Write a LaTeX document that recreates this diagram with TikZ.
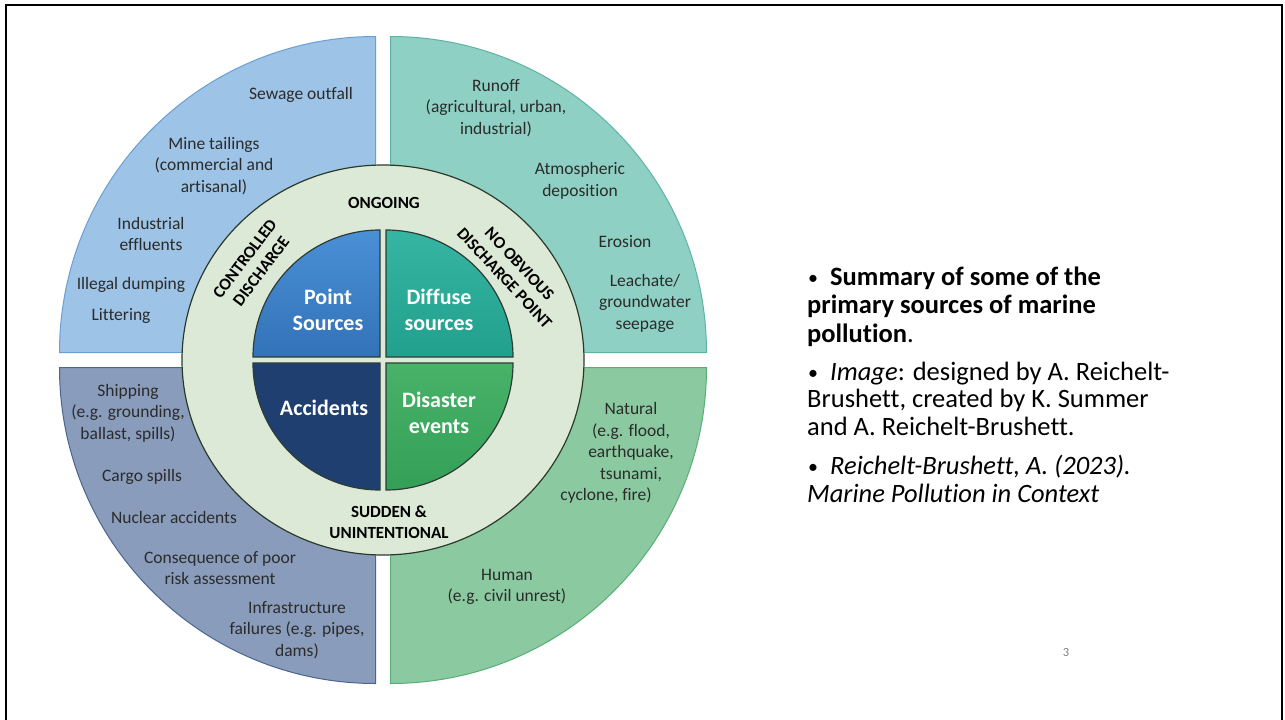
\documentclass[tikz,border=0pt]{standalone}
\usepackage{fontspec}
\setmainfont{Carlito}[Ligatures=NoCommon]
\definecolor{tlfill}{HTML}{9DC3E6}
\definecolor{tlline}{HTML}{6A9FD4}
\definecolor{trfill}{HTML}{8FD0C5}
\definecolor{trline}{HTML}{5FB3A5}
\definecolor{blfill}{HTML}{8A9CBB}
\definecolor{blline}{HTML}{4A6590}
\definecolor{brfill}{HTML}{8BCAA1}
\definecolor{brline}{HTML}{58AD78}
\definecolor{ringfill}{HTML}{DDE9D7}
\definecolor{ringline}{HTML}{2A3A2A}
\definecolor{innerline}{HTML}{2D3D35}
\definecolor{psTop}{HTML}{4A90D6}
\definecolor{psBot}{HTML}{3272B8}
\definecolor{dsTop}{HTML}{36B5A3}
\definecolor{dsBot}{HTML}{22A08E}
\definecolor{accFill}{HTML}{1E3F6F}
\definecolor{disTop}{HTML}{47B268}
\definecolor{disBot}{HTML}{349F56}
\definecolor{txtgray}{HTML}{2B2B2B}
\begin{document}
\begin{tikzpicture}[x=1pt,y=-1pt,
  outer/.style={font=\fontsize{17.5}{21.5}\selectfont, text=txtgray, align=center, inner sep=0pt},
  inlab/.style={font=\fontsize{22}{26.5}\selectfont\bfseries, text=white, align=center, inner sep=0pt},
  ringlab/.style={font=\fontsize{17}{20.5}\selectfont\bfseries, text=black, align=center, inner sep=0pt},
  side/.style={font=\fontsize{26.5}{28.5}\selectfont, anchor=base west, inner sep=0pt, text=black},
  quad/.style={line width=1pt},
  innerq/.style={draw=innerline, line width=1.2pt}]

\newcommand{\blt}{\makebox[22pt][l]{\fontsize{20}{20}\selectfont\raisebox{1pt}{•}}}

\useasboundingbox (0,0) rectangle (1285,720);
\fill[white] (0,0) rectangle (1285,720);
\draw[line width=2pt] (6,720) -- (6,5) -- (1282,5) -- (1282,720);

% outer quadrants
\filldraw[fill=tlfill, draw=tlline, quad] (375.5,352.5) -- (59.5,352.5) arc[start angle=180, end angle=90, radius=316pt] -- cycle;
\filldraw[fill=trfill, draw=trline, quad] (390.5,352.5) -- (390.5,36.5) arc[start angle=90, end angle=0, radius=316pt] -- cycle;
\filldraw[fill=brfill, draw=brline, quad] (390.5,367.5) -- (706.5,367.5) arc[start angle=0, end angle=-90, radius=316pt] -- cycle;
\filldraw[fill=blfill, draw=blline, quad] (375.5,367.5) -- (375.5,683.5) arc[start angle=-90, end angle=-180, radius=316pt] -- cycle;

% ring
\filldraw[fill=ringfill, draw=ringline, line width=1.2pt] (383,360) ellipse[x radius=201pt, y radius=195pt];

% inner quadrants
\draw[innerq, top color=psTop, bottom color=psBot] (380,357) -- (253,357) arc[start angle=180, end angle=90, radius=127pt] -- cycle;
\draw[innerq, top color=dsTop, bottom color=dsBot] (386,357) -- (386,230) arc[start angle=90, end angle=0, radius=127pt] -- cycle;
\draw[innerq, top color=disTop, bottom color=disBot] (386,363) -- (513,363) arc[start angle=0, end angle=-90, radius=127pt] -- cycle;
\draw[innerq, fill=accFill] (380,363) -- (380,490) arc[start angle=-90, end angle=-180, radius=127pt] -- cycle;

% inner labels
\node[inlab] (ps) at (328,310) {Point\\Sources};
\node[inlab] (ds) at (439,310) {Diffuse\\sources};
\node[inlab] (acc) at (324,408) {Accidents};
\node[inlab] (dis) at (439,413) {Disaster\\events};

% ring labels
\node[ringlab] (ong) at (384,203) {ONGOING};
\node[ringlab] (sud) at (389,522) {SUDDEN \&\\UNINTENTIONAL};
\node[ringlab, rotate=53] (ctl) at (253,265) {CONTROLLED\\DISCHARGE};
\node[ringlab, rotate=-47] (nob) at (512,271) {NO OBVIOUS\\DISCHARGE POINT};

% outer labels
\node[outer] (sew) at (301,95) {Sewage outfall};
\node[outer] (mine) at (214,166) {Mine tailings\\(commercial and\\artisanal)};
\node[outer] (ind) at (151,234) {Industrial\\effluents};
\node[outer] (ill) at (131,285) {Illegal dumping};
\node[outer] (lit) at (121,316) {Littering};
\node[outer] (run) at (496,108) {Runoff\\(agricultural, urban,\\industrial)};
\node[outer] (atm) at (580,181) {Atmospheric\\deposition};
\node[outer] (ero) at (625,242) {Erosion};
\node[outer] (lea) at (645,303) {Leachate/\\groundwater\\seepage};
\node[outer] (shp) at (128,413) {Shipping\\(e.g. grounding,\\ballast, spills)};
\node[outer] (cargo) at (142,477) {Cargo spills};
\node[outer] (nuc) at (174,517) {Nuclear accidents};
\node[outer] (cons) at (220,568) {Consequence of poor\\risk assessment};
\node[outer] (infra) at (297,630) {Infrastructure\\failures (e.g. pipes,\\dams)};
\node[outer] (nat) at (631,442) {Natural\\(e.g. flood,\\earthquake,\\tsunami,};
\node[outer] (nat2) at (606,496) {cyclone, fire)};
\node[outer] (hum) at (507,587) {Human\\(e.g. civil unrest)};

% side text
\node[side] (s1) at (808,285) {\blt\textbf{Summary of some of the}};
\node[side] (s2) at (807,313.5) {\textbf{primary sources of marine}};
\node[side] (s3) at (807,342) {\textbf{pollution}.};
\node[side] (s4) at (808,380) {\blt\textit{Image}: designed by A. Reichelt-};
\node[side] (s5) at (807,407.5) {Brushett, created by K. Summer};
\node[side] (s6) at (807,435) {and A. Reichelt-Brushett.};
\node[side] (s7) at (808,474) {\blt\textit{Reichelt-Brushett, A. (2023).}};
\node[side] (s8) at (807,502) {\textit{Marine Pollution in Context}};

\node[font=\fontsize{12.5}{14}\selectfont, text=gray] (pg) at (1066,652) {3};
\end{tikzpicture}
\end{document}
